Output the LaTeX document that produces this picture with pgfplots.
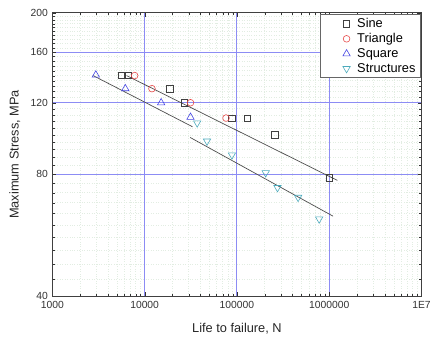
\documentclass[border=0pt]{standalone}
\usepackage{fontspec}
\setmainfont{Liberation Sans}
\usepackage{pgfplots}
\pgfplotsset{compat=1.18}
\definecolor{sinec}{HTML}{404040}
\definecolor{tric}{HTML}{E84848}
\definecolor{sqc}{HTML}{4444E4}
\definecolor{stc}{HTML}{4CAABC}
\definecolor{majg}{HTML}{8C8CF4}
\definecolor{ming}{HTML}{E2EDE2}
\begin{document}
\begin{tikzpicture}
\begin{axis}[
  name=ax,
  scale only axis, width=374bp, height=287bp,
  xmode=log, ymode=log,
  xmin=1000, xmax=1e7, ymin=40, ymax=200,
  xtick={1000,10000,100000,1000000,10000000},
  xticklabels={1000,10000,100000,1000000,1E7},
  ytick={40,80,120,160,200},
  yticklabels={40,80,120,160,200},
  minor xtick={2000,3000,4000,5000,6000,7000,8000,9000,20000,30000,40000,50000,60000,70000,80000,90000,200000,300000,400000,500000,600000,700000,800000,900000,2000000,3000000,4000000,5000000,6000000,7000000,8000000,9000000},
  minor ytick={44,48,52,56,60,64,68,72,76,84,88,92,96,100,104,108,112,116,124,128,132,136,140,144,148,152,156,164,168,172,176,180,184,188,192,196},
  grid=both,
  major grid style={majg, line width=1.1bp, solid},
  minor grid style={ming, line width=0.5pt, dotted},
  tick align=inside,
  major tick length=4bp, minor tick length=2.5bp,
  tick style={black!80},
  axis line style={black!75, line width=1pt},
  tick label style={font=\fontsize{10.5}{12}\selectfont, black!80},
  yticklabel style={xshift=-1bp},
  xticklabel style={yshift=-2bp},
  label style={font=\fontsize{13}{15}\selectfont, black!85},
  xlabel={Life to failure, N},
  ylabel={Maximum Stress, MPa},
  xlabel style={at={(axis description cs:0.5,-0.115)}, anchor=center},
  ylabel style={at={(axis description cs:-0.1016,0.5)}, anchor=center},
  legend style={at={(0.998,0.996)}, anchor=north east, draw=black!60, line width=0.8pt,
    font=\fontsize{13}{15}\selectfont, row sep=0.5pt, inner xsep=3pt, inner ysep=2pt,
    legend cell align=left},
  legend image code/.code={\path (-0.28cm,0cm) (0.85cm,0cm); \draw[#1] plot coordinates {(0.55cm,0cm)};},
  legend cell align=left,
]
\addplot[only marks, mark=square, mark size=3.2bp, sinec, line width=0.6pt] coordinates {
 (5560,140) (6670,140) (18750,130) (26900,120) (88300,110) (130000,110) (257000,100) (1000000,78.4)
};
\addlegendentry{Sine}
\addplot[only marks, mark=o, mark size=3.4bp, tric, line width=0.6pt] coordinates {
 (7800,140) (12000,130) (31400,120) (76200,110)
};
\addlegendentry{Triangle}
\addplot[only marks, mark=triangle, mark size=4.3bp, sqc, line width=0.6pt] coordinates {
 (2960,140.5) (6180,130) (15100,120) (31400,110.5)
};
\addlegendentry{Square}
\addplot[only marks, mark=triangle, mark options={rotate=180}, mark size=4.3bp, stc, line width=0.6pt] coordinates {
 (37100,107) (47400,96.5) (88300,89.2) (205000,80.6) (275000,74.1) (460000,70.1) (778000,62)
};
\addlegendentry{Structures}
\addplot[forget plot, black!70, line width=0.7pt] coordinates {(6380,140) (1225000,77.2)};
\addplot[forget plot, black!70, line width=0.7pt] coordinates {(2770,140) (33000,104.7)};
\addplot[forget plot, black!70, line width=0.7pt] coordinates {(31200,98.5) (1100000,63)};
\end{axis}
\path (ax.south west) ++(-53bp,-45bp) coordinate (bl);
\path (ax.north east) ++(7bp,13bp) coordinate (tr);
\path (bl) rectangle (tr);
\end{tikzpicture}
\end{document}
